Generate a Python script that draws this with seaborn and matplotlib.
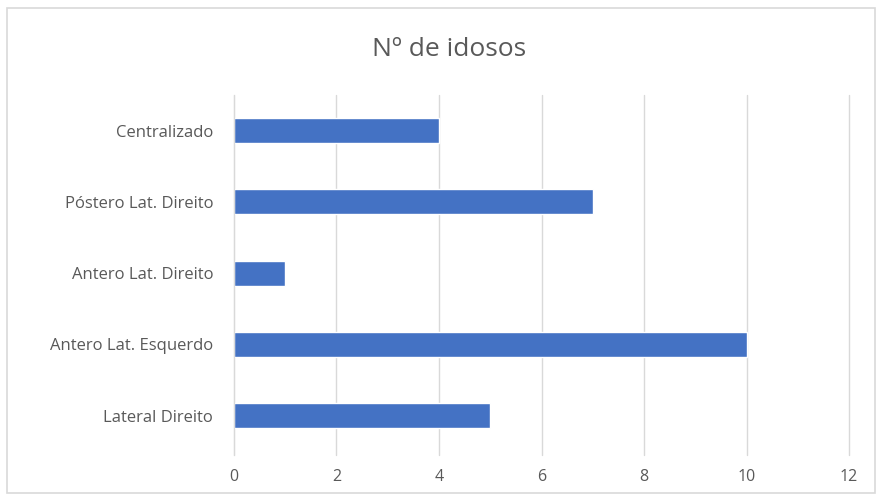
import pandas as pd
import matplotlib.pyplot as plt
import seaborn as sns
from matplotlib.patches import Rectangle

# data
categorias = ['Centralizado', 'Póstero Lat. Direito', 'Antero Lat. Direito',
              'Antero Lat. Esquerdo', 'Lateral Direito']
idosos = [4, 7, 1, 10, 5]
x_ticks = [0, 2, 4, 6, 8, 10, 12]

df = pd.DataFrame({'categoria': categorias, 'idosos': idosos})

sns.set_style('white')
plt.rcParams['font.family'] = ['Open Sans', 'DejaVu Sans']

fig = plt.figure(figsize=(8.77, 4.97), dpi=100)
ax = fig.add_axes([0.2668, 0.0845, 0.7013, 0.7245])

sns.barplot(data=df, x='idosos', y='categoria', color='#4472C4',
            saturation=1, width=0.35, ax=ax)

ax.set_xlim(0, 12)
ax.set_xticks(x_ticks)
ax.set_ylim(4.55, -0.5)
ax.xaxis.grid(True, color='#d9d9d9', linewidth=1)
for gl in ax.get_xgridlines():
    gl.set_clip_on(False)
ax.set_axisbelow(True)
for s in ['top', 'right', 'bottom']:
    ax.spines[s].set_visible(False)
ax.spines['left'].set_color('#d9d9d9')
ax.tick_params(axis='x', length=0, pad=10, labelsize=11.5, labelcolor='#595959')
ax.tick_params(axis='y', length=0, pad=15, labelsize=12, labelcolor='#595959')
ax.set_xlabel('')
ax.set_ylabel('')

fig.text(0.512, 0.9, 'Nº de idosos', ha='center', va='center',
         fontsize=19, color='#595959')

# light frame around the chart area
fig.patches.append(Rectangle((0.008, 0.008), 0.99, 0.976, transform=fig.transFigure,
                             fill=False, edgecolor='#d9d9d9', linewidth=1.2))

fig.savefig('out.png', dpi=100)
